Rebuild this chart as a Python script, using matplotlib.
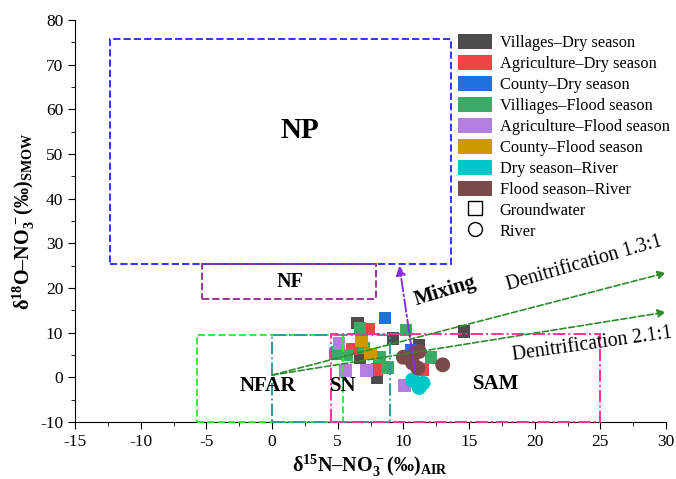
import matplotlib.pyplot as plt
from matplotlib.patches import Patch, Rectangle
from matplotlib.lines import Line2D

plt.rcParams['font.family'] = ['Liberation Serif', 'DejaVu Serif']
plt.rcParams['mathtext.fontset'] = 'custom'
plt.rcParams['mathtext.rm'] = 'Liberation Serif'
plt.rcParams['mathtext.it'] = 'Liberation Serif:italic'
plt.rcParams['mathtext.bf'] = 'Liberation Serif:bold'
plt.rcParams['axes.unicode_minus'] = False

# groundwater samples (squares)
vil_dry_x = [6.5, 6.7, 8.0, 9.2, 11.2, 14.6]
vil_dry_y = [12.2, 4.4, -0.1, 8.7, 7.3, 10.3]
agr_dry_x = [7.4, 6.1, 8.0, 11.5]
agr_dry_y = [10.8, 6.4, 1.8, 1.8]
cty_dry_x = [8.6, 10.6]
cty_dry_y = [13.3, 6.0]
vil_fld_x = [6.7, 5.0, 5.7, 7.0, 8.2, 8.8, 10.2, 12.1, 4.8]
vil_fld_y = [11.0, 5.6, 5.0, 6.6, 4.6, 2.2, 10.6, 4.4, 5.2]
agr_fld_x = [5.1, 5.6, 7.2, 10.1]
agr_fld_y = [7.6, 1.5, 1.5, -1.8]
cty_fld_x = [6.8, 7.5]
cty_fld_y = [8.2, 5.2]
# river samples (circles)
riv_dry_x = [10.7, 11.2, 11.5]
riv_dry_y = [-0.6, -2.3, -1.3]
riv_fld_x = [10.0, 10.9, 11.2, 10.7, 11.1, 13.0]
riv_fld_y = [4.5, 5.5, 5.8, 3.2, 2.1, 2.8]

labels = ['Villages–Dry season', 'Agriculture–Dry season', 'County–Dry season',
          'Villiages–Flood season', 'Agriculture–Flood season', 'County–Flood season',
          'Dry season–River', 'Flood season–River']
colors = ['#4d4d4d', '#f04343', '#1f6fdc', '#3aaa66', '#b27ee0', '#cc9900',
          '#00c8c8', '#7a4a4a']

# source boxes: name, x0, x1, y0, y1
boxes = [('NP', -12.3, 13.6, 25.3, 75.8),
         ('NF', -5.3, 7.9, 17.5, 25.3),
         ('NFAR', -5.7, 5.4, -10, 9.5),
         ('SN', 0.0, 9.0, -10, 9.5),
         ('SAM', 4.5, 25.0, -10, 9.6)]
box_colors = ['#3333ff', '#993399', '#33ee33', '#339999', '#ff3399']
box_styles = ['--', '--', '--', '-.', '-.']

fig = plt.figure(figsize=(6.76, 4.79), dpi=100)
ax = fig.add_axes([75 / 676, 57 / 479, 591 / 676, 402 / 479])

sq = [(vil_dry_x, vil_dry_y), (agr_dry_x, agr_dry_y), (cty_dry_x, cty_dry_y),
      (vil_fld_x, vil_fld_y), (agr_fld_x, agr_fld_y), (cty_fld_x, cty_fld_y)]
for (x, y), c in zip(sq, colors[:6]):
    ax.scatter(x, y, marker='s', s=80, color=c, edgecolors='none', zorder=2)
ax.scatter(riv_dry_x, riv_dry_y, marker='o', s=115, color=colors[6], edgecolors='none', zorder=2)
ax.scatter(riv_fld_x, riv_fld_y, marker='o', s=115, color=colors[7], edgecolors='none', zorder=2)

for (name, x0, x1, y0, y1), c, ls in zip(boxes, box_colors, box_styles):
    ax.add_patch(Rectangle((x0, y0), x1 - x0, y1 - y0, fill=False, edgecolor=c,
                           linestyle=ls, linewidth=1.4, zorder=3, clip_on=False))

# denitrification and mixing arrows
ax.annotate('', xy=(30, 23.4), xytext=(0, 0.5),
            arrowprops=dict(arrowstyle='-|>', color='#2e8b2e', linestyle='--', lw=1.2,
                            mutation_scale=12, shrinkA=0, shrinkB=0), zorder=4)
ax.annotate('', xy=(30, 14.6), xytext=(0, 0.5),
            arrowprops=dict(arrowstyle='-|>', color='#2e8b2e', linestyle='--', lw=1.2,
                            mutation_scale=12, shrinkA=0, shrinkB=0), zorder=4)
ax.annotate('', xy=(9.7, 25.0), xytext=(10.9, 1.0),
            arrowprops=dict(arrowstyle='-|>', color='#8a2be2', linestyle='-.', lw=1.4,
                            mutation_scale=14, shrinkA=0, shrinkB=0), zorder=4)

ax.text(2.1, 55.3, 'NP', fontsize=21, fontweight='bold', ha='center', va='center')
ax.text(1.4, 21.4, 'NF', fontsize=14.5, fontweight='bold', ha='center', va='center')
ax.text(-0.3, -1.9, 'NFAR', fontsize=15, fontweight='bold', ha='center', va='center')
ax.text(5.4, -1.9, 'SN', fontsize=15, fontweight='bold', ha='center', va='center')
ax.text(17.1, -1.6, 'SAM', fontsize=15, fontweight='bold', ha='center', va='center')
ax.text(13.2, 19.3, 'Mixing', fontsize=15, fontweight='bold', ha='center', va='center',
        rotation=17)
ax.text(23.8, 25.6, 'Denitrification 1.3:1', fontsize=14.2, ha='center', va='center',
        rotation=16)
ax.text(24.4, 7.4, 'Denitrification 2.1:1', fontsize=14.2, ha='center', va='center',
        rotation=8)

ax.set_xlim(-15, 30)
ax.set_ylim(-10, 80)
ax.set_xticks(range(-15, 31, 5))
ax.set_yticks(range(-10, 81, 10))
ax.set_xticks([x + 2.5 for x in range(-15, 30, 5)], minor=True)
ax.set_yticks([y + 5 for y in range(-10, 80, 10)], minor=True)
ax.spines['top'].set_visible(False)
ax.spines['right'].set_visible(False)
ax.tick_params(which='major', direction='out', length=5, labelsize=12.5)
ax.tick_params(which='minor', direction='out', length=3)

ax.set_xlabel(r'$\mathbf{δ^{15}N–NO_3^{\,−}(‰)_{AIR}}$', fontsize=14.5, labelpad=2)
ax.set_ylabel(r'$\mathbf{δ^{18}O–NO_3^{\,−}(‰)_{SMOW}}$', fontsize=14.5, labelpad=2)

handles = [Patch(facecolor=c, edgecolor='none') for c in colors]
handles.append(Line2D([], [], marker='s', linestyle='none', markerfacecolor='white',
                      markeredgecolor='black', markersize=10))
handles.append(Line2D([], [], marker='o', linestyle='none', markerfacecolor='white',
                      markeredgecolor='black', markersize=10))
ax.legend(handles, labels + ['Groundwater', 'River'], loc='upper left',
          bbox_to_anchor=(458 / 676, 1 - 34 / 479), bbox_transform=fig.transFigure,
          frameon=False, fontsize=11.8, handlelength=2.1, handleheight=1.05,
          labelspacing=0.23, handletextpad=0.45, borderpad=0, borderaxespad=0)

fig.savefig('out.png', dpi=100)
